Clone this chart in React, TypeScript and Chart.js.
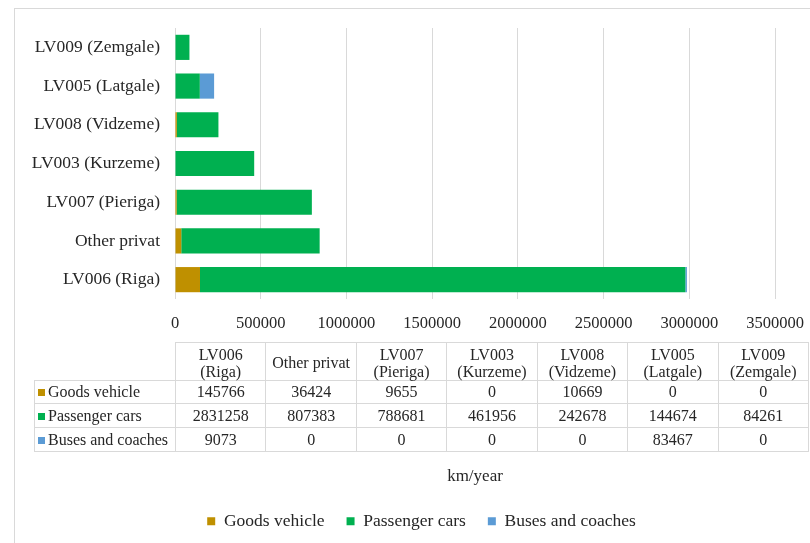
import React, { useEffect, useRef } from "react";
import { Chart, registerables } from "chart.js";

Chart.register(...registerables);

const categories = [
  "LV006 (Riga)",
  "Other privat",
  "LV007 (Pieriga)",
  "LV003 (Kurzeme)",
  "LV008 (Vidzeme)",
  "LV005 (Latgale)",
  "LV009 (Zemgale)",
];
const tableHeaders = [
  ["LV006", "(Riga)"],
  ["Other privat"],
  ["LV007", "(Pieriga)"],
  ["LV003", "(Kurzeme)"],
  ["LV008", "(Vidzeme)"],
  ["LV005", "(Latgale)"],
  ["LV009", "(Zemgale)"],
];
const seriesNames = ["Goods vehicle", "Passenger cars", "Buses and coaches"];
const seriesColors = ["#BF9000", "#00B050", "#5B9BD5"];
const goodsVehicle = [145766, 36424, 9655, 0, 10669, 0, 0];
const passengerCars = [2831258, 807383, 788681, 461956, 242678, 144674, 84261];
const busesCoaches = [9073, 0, 0, 0, 0, 83467, 0];
const xTickStep = 500000;
const xMax = 3500000;
const axisTitle = "km/year";

const FONT = "'Liberation Serif', 'Times New Roman', serif";
const TEXT = "#262626";
const GRID = "#d9d9d9";

const legendShift = {
  id: "legendShift",
  afterLayout(chart: any) {
    const lg = chart.legend;
    if (lg) {
      lg.left += 34;
      lg.right += 34;
    }
  },
};

export default function App() {
  const ref = useRef<HTMLCanvasElement>(null);

  useEffect(() => {
    const rev = <T,>(a: T[]) => [...a].reverse();
    const series = [goodsVehicle, passengerCars, busesCoaches];
    const chart = new Chart(ref.current as HTMLCanvasElement, {
      type: "bar",
      data: {
        labels: rev(categories),
        datasets: series.map((s, i) => ({
          label: seriesNames[i],
          data: rev(s),
          backgroundColor: seriesColors[i],
          borderWidth: 0,
          barPercentage: 0.65,
          categoryPercentage: 1,
        })),
      },
      plugins: [legendShift],
      options: {
        indexAxis: "y",
        responsive: false,
        animation: false,
        devicePixelRatio: 1,
        layout: { padding: { top: 28, right: 35, left: 0, bottom: 3 } },
        font: { family: FONT },
        plugins: {
          tooltip: { enabled: false },
          legend: {
            position: "bottom",
            labels: {
              boxWidth: 8,
              boxHeight: 8,
              padding: 22,
              color: TEXT,
              font: { family: FONT, size: 17.5 },
            },
          },
        },
        scales: {
          x: {
            stacked: true,
            min: 0,
            max: xMax,
            afterFit: (s: any) => {
              s.height = 191.5;
              s.paddingRight = 0;
              s.paddingLeft = 0;
            },
            ticks: {
              stepSize: xTickStep,
              padding: 15,
              color: TEXT,
              font: { family: FONT, size: 16.5 },
              callback: (v: any) => String(v),
            },
            grid: { color: GRID, drawTicks: false, lineWidth: 1 },
            border: { display: false },
            title: {
              display: true,
              text: axisTitle,
              color: TEXT,
              font: { family: FONT, size: 17 },
              padding: { top: 0, bottom: 4 },
            },
          },
          y: {
            stacked: true,
            afterFit: (s: any) => {
              s.width = 175;
            },
            ticks: {
              padding: 15,
              color: TEXT,
              font: { family: FONT, size: 17.5 },
            },
            grid: { display: false, drawTicks: false },
            border: { display: false },
          },
        },
      },
    } as any);
    return () => chart.destroy();
  }, []);

  const cellBorder = `1px solid ${GRID}`;
  const colW = (808 - 175) / 7;
  const rowHeights = [23, 24, 24];
  const rows = [goodsVehicle, passengerCars, busesCoaches];

  return (
    <div
      style={{
        position: "fixed",
        left: 0,
        top: 0,
        width: 810,
        height: 543,
        overflow: "hidden",
        background: "#fff",
      }}
    >
      <div
        style={{
          position: "absolute",
          left: 14,
          top: 8,
          width: 900,
          height: 700,
          border: `1px solid ${GRID}`,
        }}
      />
      <canvas
        ref={ref}
        width={810}
        height={543}
        style={{ position: "absolute", left: 0, top: 0, width: 810, height: 543 }}
      />
      <table
        style={{
          position: "absolute",
          left: 34,
          top: 342,
          borderCollapse: "collapse",
          tableLayout: "fixed",
          width: 808 - 34,
          fontFamily: FONT,
          fontSize: 16,
          color: TEXT,
          background: "transparent",
        }}
      >
        <colgroup>
          <col style={{ width: 175 - 34 }} />
          {tableHeaders.map((_, i) => (
            <col key={i} style={{ width: colW }} />
          ))}
        </colgroup>
        <tbody>
          <tr style={{ height: 38 }}>
            <td style={{ borderTop: "none", borderLeft: "none", padding: 0 }} />
            {tableHeaders.map((h, i) => (
              <td
                key={i}
                style={{
                  border: cellBorder,
                  textAlign: "center",
                  padding: "2px 0 0 0",
                  lineHeight: "17px",
                }}
              >
                {h.map((line, j) => (
                  <div key={j}>{line}</div>
                ))}
              </td>
            ))}
          </tr>
          {rows.map((r, ri) => (
            <tr key={ri} style={{ height: rowHeights[ri] }}>
              <td
                style={{
                  border: cellBorder,
                  padding: "0 0 0 3px",
                  whiteSpace: "nowrap",
                  lineHeight: "18px",
                }}
              >
                <span
                  style={{
                    display: "inline-block",
                    width: 7,
                    height: 7,
                    background: seriesColors[ri],
                    marginRight: 3,
                    verticalAlign: "1px",
                  }}
                />
                {seriesNames[ri]}
              </td>
              {r.map((v, ci) => (
                <td
                  key={ci}
                  style={{
                    border: cellBorder,
                    textAlign: "center",
                    padding: 0,
                    lineHeight: "18px",
                  }}
                >
                  {v}
                </td>
              ))}
            </tr>
          ))}
        </tbody>
      </table>
    </div>
  );
}
